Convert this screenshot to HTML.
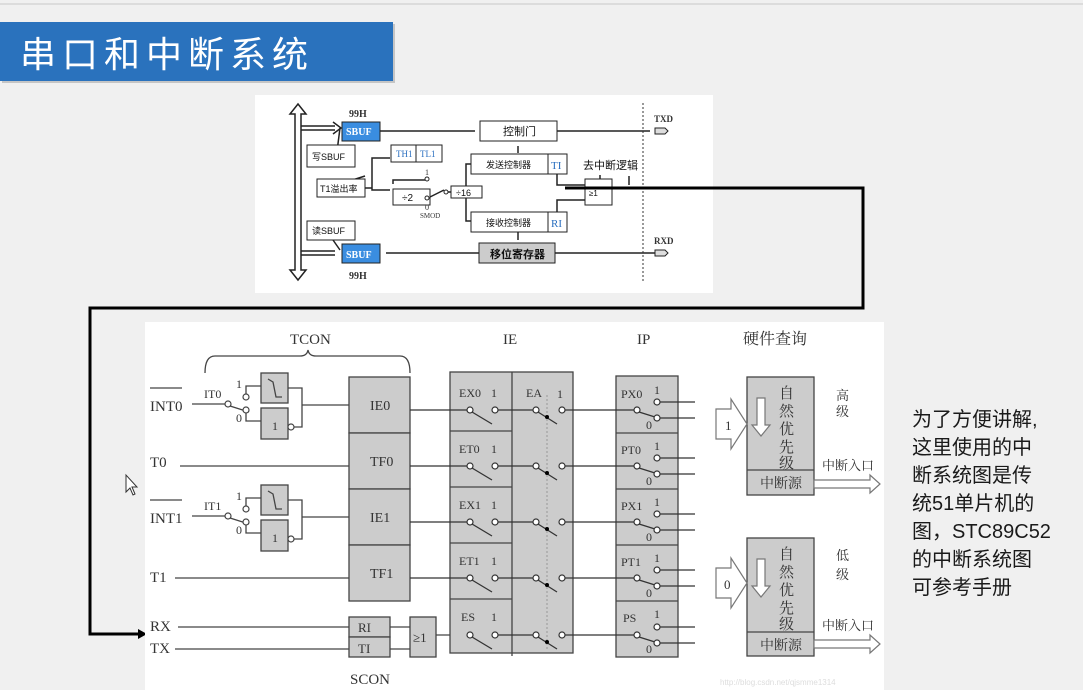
<!DOCTYPE html>
<html><head><meta charset="utf-8"><style>
html,body{margin:0;padding:0;width:1083px;height:690px;overflow:hidden;background:#f0f0f0}
svg{position:absolute;left:0;top:0}
.s{font-family:"Liberation Serif","Noto Serif CJK SC",serif;fill:#333}
.h{font-family:"Liberation Sans","Noto Sans CJK SC",sans-serif;fill:#111}
</style></head><body>
<svg width="1083" height="690" viewBox="0 0 1083 690" xmlns="http://www.w3.org/2000/svg">
<line x1="0" y1="4" x2="1083" y2="4" stroke="#c8c8c8" stroke-width="1"/>
<rect x="2" y="24" width="393" height="59" fill="#999" opacity="0.5"/>
<rect x="0" y="22" width="393" height="59" fill="#2a72bd"/>
<text x="20" y="67" font-size="36" fill="#fff" font-family="Liberation Sans,'Noto Sans CJK SC',sans-serif" letter-spacing="6">串口和中断系统</text>

<!-- top diagram -->
<rect x="255" y="95" width="458" height="198" fill="#fff"/>
<g stroke="#222" stroke-width="1.5" fill="none">
<path d="M298 104 L290 114 L295 114 L295 270 L290 270 L298 280 L306 270 L301 270 L301 114 L306 114 Z" fill="#fff"/>
<path d="M301 126 L335 126 M301 130 L335 130"/>
<path d="M333 122 L341 128 L333 134"/>
<path d="M380 131 L475 131"/>
<path d="M557 131 L650 131"/>
<path d="M518 153 L518 146"/>
<path d="M365 188 L372 188 L372 190 L390 190 M372 188 L372 158 L390 158" />
<path d="M430 197 L444 190 M448 192 L451 192 M466 186 L466 164 L471 164 M466 198 L466 221 L471 221"/>
<path d="M393 184 L393 180 L425 180"/>
<path d="M557 174 L557 185 L585 185 M557 212 L557 200 L585 200"/>
<path d="M600 179 L600 175 M629 185 L629 176"/>
<path d="M518 232 L518 240"/>
<path d="M479 253 L386 253 M643 253 L555 253 M655 253 L555 253"/>
<path d="M335 251 L301 251 M335 255 L301 255"/>
<path d="M335 167 L340 128"/>
<path d="M333 240 L340 250"/>
<path d="M340 184 L365 176"/>
</g>
<line x1="643" y1="103" x2="643" y2="282" stroke="#333" stroke-width="1" stroke-dasharray="2,2"/>
<rect x="342" y="122" width="38" height="19" fill="#3a8de0" stroke="#222"/>
<text x="346" y="135" font-size="10" class="s" font-weight="bold" style="fill:#fff">SBUF</text>
<rect x="342" y="244" width="38" height="19" fill="#3a8de0" stroke="#222"/>
<text x="346" y="258" font-size="10" style="fill:#fff" class="s" font-weight="bold">SBUF</text>
<text x="349" y="117" font-size="10" class="s" font-weight="bold">99H</text>
<text x="349" y="279" font-size="10" class="s" font-weight="bold">99H</text>
<rect x="480" y="121" width="77" height="20" fill="#fff" stroke="#222"/>
<text x="503" y="135" font-size="11" class="h">控制门</text>
<rect x="307" y="145" width="48" height="22" fill="#fff" stroke="#222"/>
<text x="312" y="160" font-size="9" class="h">写SBUF</text>
<rect x="307" y="221" width="48" height="19" fill="#fff" stroke="#222"/>
<text x="312" y="234" font-size="9" class="h">读SBUF</text>
<rect x="391" y="145" width="51" height="17" fill="#fff" stroke="#222"/>
<line x1="416" y1="145" x2="416" y2="162" stroke="#222"/>
<text x="396" y="157" font-size="9" fill="#2a6fc0" font-family="Liberation Serif">TH1</text>
<text x="420" y="157" font-size="9" fill="#2a6fc0" font-family="Liberation Serif">TL1</text>
<rect x="317" y="179" width="48" height="18" fill="#fff" stroke="#222"/>
<text x="320" y="192" font-size="9" class="h">T1溢出率</text>
<rect x="393" y="189" width="37" height="16" fill="#fff" stroke="#222"/>
<text x="402" y="201" font-size="10" class="h">÷2</text>
<circle cx="427" cy="179" r="2" fill="#fff" stroke="#222"/><text x="425" y="175" font-size="8" class="s">1</text>
<circle cx="427" cy="198" r="2" fill="#fff" stroke="#222"/><text x="425" y="210" font-size="8" class="s">0</text>
<text x="420" y="218" font-size="7" class="s">SMOD</text>
<circle cx="446" cy="192" r="2" fill="#fff" stroke="#222"/>
<rect x="451" y="186" width="31" height="12" fill="#fff" stroke="#222"/>
<text x="456" y="196" font-size="9" class="h">÷16</text>
<rect x="471" y="154" width="96" height="20" fill="#fff" stroke="#222"/>
<line x1="548" y1="154" x2="548" y2="174" stroke="#222"/>
<text x="486" y="168" font-size="9" class="h">发送控制器</text>
<text x="551" y="169" font-size="11" fill="#2a6fc0" font-family="Liberation Serif">TI</text>
<rect x="471" y="212" width="96" height="20" fill="#fff" stroke="#222"/>
<line x1="548" y1="212" x2="548" y2="232" stroke="#222"/>
<text x="486" y="226" font-size="9" class="h">接收控制器</text>
<text x="551" y="227" font-size="11" fill="#2a6fc0" font-family="Liberation Serif">RI</text>
<rect x="585" y="179" width="27" height="26" fill="#fff" stroke="#222"/>
<text x="589" y="196" font-size="8" class="h">≥1</text>
<text x="583" y="169" font-size="11" class="h">去中断逻辑</text>
<rect x="479" y="243" width="76" height="20" fill="#ccc" stroke="#222"/>
<text x="490" y="258" font-size="11" class="h" font-weight="bold">移位寄存器</text>
<text x="654" y="122" font-size="9" class="s" font-weight="bold">TXD</text>
<text x="654" y="244" font-size="9" class="s" font-weight="bold">RXD</text>
<path d="M655 128 L665 128 L668 131 L665 134 L655 134Z" fill="#ddd" stroke="#222"/>
<path d="M655 250 L665 250 L668 253 L665 256 L655 256Z" fill="#ddd" stroke="#222"/>

<!-- thick connector -->
<path d="M565 188 L863 188 L863 308 L90 308 L90 634 L140 634" fill="none" stroke="#000" stroke-width="3"/>
<path d="M138 629 L147 634 L138 639Z" fill="#000"/>

<!-- bottom diagram -->
<rect x="145" y="322" width="739" height="368" fill="#fff"/>
<g class="s" font-size="15">
<text x="290" y="344">TCON</text><text x="503" y="344">IE</text><text x="637" y="344">IP</text>
<text x="743" y="344" font-size="16">硬件查询</text>
<text x="150" y="411">INT0</text><text x="150" y="467">T0</text><text x="150" y="523">INT1</text><text x="150" y="582">T1</text>
<text x="150" y="631">RX</text><text x="150" y="653">TX</text><text x="350" y="684">SCON</text>
</g>
<g stroke="#444" stroke-width="1.3" fill="none">
<path d="M150 388 L182 388 M150 500 L182 500"/>
<path d="M205 373 Q205 356 215 356 L300 356 Q307 356 308 350 Q309 356 316 356 L400 356 Q410 356 410 373"/>
<path d="M192 404 L225 404 M192 516 L225 516 M180 466 L349 466 M175 578 L349 578 M178 627 L349 627 M175 649 L349 649"/>
<path d="M230 406 L249 412 M230 518 L249 524"/>
<path d="M246 394 L246 386 L261 386 M246 413 L246 421 L261 421 M288 388 L302 388 L302 427 L292 427 M302 405 L349 405"/>
<path d="M246 506 L246 498 L261 498 M246 525 L246 533 L261 533 M288 500 L302 500 L302 539 L292 539 M302 517 L349 517"/>
<path d="M390 627 L410 627 M390 649 L410 649 M436 635 L467 635"/>
</g>
<g fill="#ccc" stroke="#444" stroke-width="1.3">
<rect x="261" y="373" width="27" height="30"/><rect x="261" y="408" width="27" height="31"/>
<rect x="261" y="485" width="27" height="30"/><rect x="261" y="520" width="27" height="31"/>
<rect x="349" y="377" width="61" height="56"/><rect x="349" y="433" width="61" height="56"/>
<rect x="349" y="489" width="61" height="56"/><rect x="349" y="545" width="61" height="56"/>
<rect x="349" y="617" width="41" height="20"/><rect x="349" y="637" width="41" height="20"/>
<rect x="410" y="617" width="26" height="40"/>
<rect x="450" y="372" width="123" height="281"/>
<rect x="616" y="376" width="62" height="281"/>
<rect x="747" y="377" width="67" height="118"/><rect x="747" y="538" width="67" height="118"/>
</g>
<g stroke="#444" stroke-width="1.3" fill="none">
<path d="M512 372 L512 656 M450 431 L512 431 M450 487 L512 487 M450 543 L512 543 M450 599 L512 599"/>
<path d="M616 433 L678 433 M616 489 L678 489 M616 545 L678 545 M616 601 L678 601"/>
<path d="M747 470 L814 470 M747 632 L814 632"/>
<path d="M268 379 L273 382 L276 397 L282 397 M268 491 L273 494 L276 509 L282 509"/>
</g>
<line x1="547" y1="395" x2="547" y2="650" stroke="#999" stroke-width="1" stroke-dasharray="2,2"/>
<g fill="#fff" stroke="#444" stroke-width="1.2">
<circle cx="228" cy="404" r="3"/><circle cx="246" cy="397" r="3"/><circle cx="246" cy="410" r="3"/><circle cx="291" cy="427" r="3"/>
<circle cx="228" cy="516" r="3"/><circle cx="246" cy="509" r="3"/><circle cx="246" cy="522" r="3"/><circle cx="291" cy="539" r="3"/>
</g>
<g class="s" font-size="12">
<text x="204" y="398">IT0</text><text x="236" y="388">1</text><text x="236" y="422">0</text><text x="272" y="430">1</text>
<text x="204" y="510">IT1</text><text x="236" y="500">1</text><text x="236" y="534">0</text><text x="272" y="542">1</text>
<text x="370" y="410" font-size="14">IE0</text><text x="370" y="466" font-size="14">TF0</text><text x="370" y="522" font-size="14">IE1</text><text x="370" y="578" font-size="14">TF1</text>
<text x="358" y="632" font-size="13">RI</text><text x="358" y="653" font-size="13">TI</text><text x="413" y="642" font-size="13">≥1</text>
<text x="459" y="397">EX0</text><text x="459" y="453">ET0</text><text x="459" y="509">EX1</text><text x="459" y="565">ET1</text><text x="461" y="621">ES</text>
<text x="491" y="397">1</text><text x="491" y="453">1</text><text x="491" y="509">1</text><text x="491" y="565">1</text><text x="491" y="621">1</text>
<text x="526" y="397">EA</text><text x="557" y="398">1</text>
<text x="621" y="398">PX0</text><text x="621" y="454">PT0</text><text x="621" y="510">PX1</text><text x="621" y="566">PT1</text><text x="623" y="622">PS</text>
<text x="654" y="394">1</text><text x="654" y="450">1</text><text x="654" y="506">1</text><text x="654" y="562">1</text><text x="654" y="618">1</text>
<text x="646" y="429">0</text><text x="646" y="485">0</text><text x="646" y="541">0</text><text x="646" y="597">0</text><text x="646" y="653">0</text>
</g>
<g stroke="#333" stroke-width="1.3" fill="none">
<path d="M410 410 L467 410 M472 412 L492 424 M498 410 L533 410 M538 412 L557 424 M565 410 L634 410 M639 412 L655 417 M660 402 L695 402 M660 418 L695 418"/>
<path d="M410 466 L467 466 M472 468 L492 480 M498 466 L533 466 M538 468 L557 480 M565 466 L634 466 M639 468 L655 473 M660 458 L695 458 M660 474 L695 474"/>
<path d="M410 522 L467 522 M472 524 L492 536 M498 522 L533 522 M538 524 L557 536 M565 522 L634 522 M639 524 L655 529 M660 514 L695 514 M660 530 L695 530"/>
<path d="M410 578 L467 578 M472 580 L492 592 M498 578 L533 578 M538 580 L557 592 M565 578 L634 578 M639 580 L655 585 M660 570 L695 570 M660 586 L695 586"/>
<path d="M472 637 L492 649 M498 635 L533 635 M538 637 L557 649 M565 635 L634 635 M639 637 L655 642 M660 627 L695 627 M660 643 L695 643"/>
</g>
<g fill="#fff" stroke="#333" stroke-width="1.2">
<circle cx="470" cy="410" r="3"/><circle cx="495" cy="410" r="3"/><circle cx="536" cy="410" r="3"/><circle cx="562" cy="410" r="3"/><circle cx="637" cy="410" r="3"/><circle cx="657" cy="402" r="3"/><circle cx="657" cy="418" r="3"/>
<circle cx="470" cy="466" r="3"/><circle cx="495" cy="466" r="3"/><circle cx="536" cy="466" r="3"/><circle cx="562" cy="466" r="3"/><circle cx="637" cy="466" r="3"/><circle cx="657" cy="458" r="3"/><circle cx="657" cy="474" r="3"/>
<circle cx="470" cy="522" r="3"/><circle cx="495" cy="522" r="3"/><circle cx="536" cy="522" r="3"/><circle cx="562" cy="522" r="3"/><circle cx="637" cy="522" r="3"/><circle cx="657" cy="514" r="3"/><circle cx="657" cy="530" r="3"/>
<circle cx="470" cy="578" r="3"/><circle cx="495" cy="578" r="3"/><circle cx="536" cy="578" r="3"/><circle cx="562" cy="578" r="3"/><circle cx="637" cy="578" r="3"/><circle cx="657" cy="570" r="3"/><circle cx="657" cy="586" r="3"/>
<circle cx="470" cy="635" r="3"/><circle cx="495" cy="635" r="3"/><circle cx="536" cy="635" r="3"/><circle cx="562" cy="635" r="3"/><circle cx="637" cy="635" r="3"/><circle cx="657" cy="627" r="3"/><circle cx="657" cy="643" r="3"/>
</g>
<g fill="#000"><circle cx="547" cy="417" r="2"/><circle cx="547" cy="473" r="2"/><circle cx="547" cy="529" r="2"/><circle cx="547" cy="585" r="2"/><circle cx="547" cy="642" r="2"/></g>
<g fill="#fff" stroke="#777" stroke-width="1.2">
<path d="M716 409 L731 409 L731 399 L747 424 L731 449 L731 439 L716 439Z"/>
<path d="M716 568 L731 568 L731 558 L747 583 L731 608 L731 598 L716 598Z"/>
<path d="M814 480 L870 480 L870 475 L880 484 L870 493 L870 488 L814 488Z"/>
<path d="M814 640 L870 640 L870 635 L880 644 L870 653 L870 648 L814 648Z"/>
<path d="M757 398 L765 398 L765 425 L770 425 L761 436 L752 425 L757 425Z"/>
<path d="M757 559 L765 559 L765 586 L770 586 L761 597 L752 586 L757 586Z"/>
</g>
<g class="s" font-size="15">
<text x="725" y="430" font-size="13">1</text><text x="724" y="589" font-size="13">0</text>
<text x="779" y="398">自</text><text x="779" y="416">然</text><text x="779" y="434">优</text><text x="779" y="452">先</text><text x="779" y="468">级</text>
<text x="779" y="559">自</text><text x="779" y="577">然</text><text x="779" y="595">优</text><text x="779" y="613">先</text><text x="779" y="629">级</text>
<text x="760" y="488" font-size="14">中断源</text><text x="760" y="650" font-size="14">中断源</text>
<text x="822" y="470" font-size="13">中断入口</text><text x="822" y="630" font-size="13">中断入口</text>
<text x="836" y="400" font-size="13">高</text><text x="836" y="416" font-size="13">级</text>
<text x="836" y="560" font-size="13">低</text><text x="836" y="579" font-size="13">级</text>
</g>
<text x="720" y="685" font-size="8" fill="#ddd" font-family="Liberation Sans">http://blog.csdn.net/qjsmme1314</text>
<path d="M126 475 L126 492 L130 488 L133 495 L135 494 L132 487 L137 487Z" fill="#fff" stroke="#333" stroke-width="1"/>
<g font-family="'Liberation Sans','Noto Sans CJK SC',sans-serif" font-size="20" fill="#1a1a1a">
<text x="912" y="426">为了方便讲解,</text>
<text x="912" y="454">这里使用的中</text>
<text x="912" y="482">断系统图是传</text>
<text x="912" y="510">统51单片机的</text>
<text x="912" y="538">图，STC89C52</text>
<text x="912" y="566">的中断系统图</text>
<text x="912" y="594">可参考手册</text>
</g>
</svg>
</body></html>
